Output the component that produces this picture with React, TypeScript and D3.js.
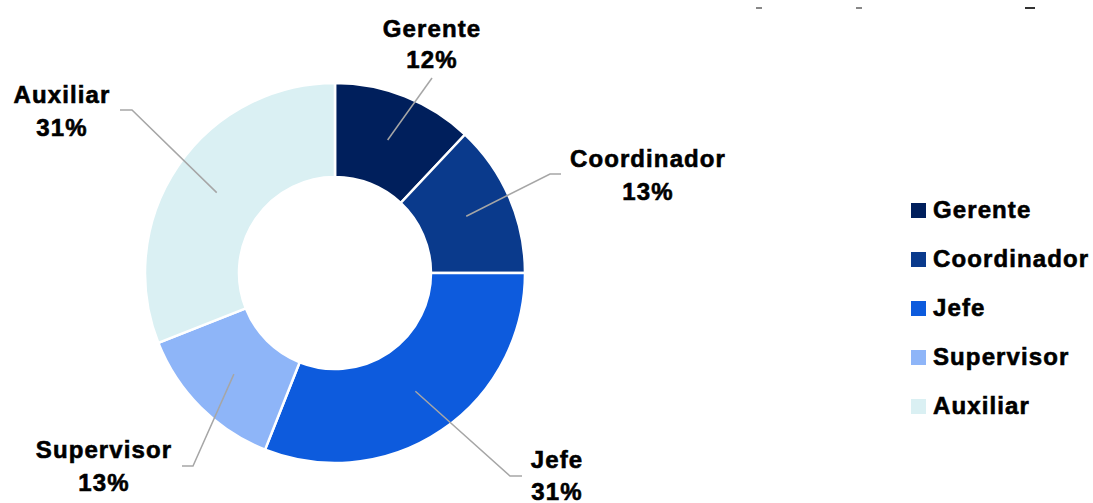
import React from "react";
import * as d3 from "d3";

const categories = ["Gerente", "Coordinador", "Jefe", "Supervisor", "Auxiliar"];
const values = [12, 13, 31, 13, 31];
const colors = ["#001F5C", "#0A3A8C", "#0D5BDD", "#8EB5F8", "#DAF0F3"];

// label layout: text center x, first baseline, elbow point, end point
const labelLayout = [
  { x: 432, y: 37, gap: 31, elbow: [432, 78], end: [432, 78] },
  { x: 648, y: 167, gap: 33, elbow: [550, 174], end: [561, 174] },
  { x: 557, y: 468, gap: 32, elbow: [510, 476], end: [522, 476] },
  { x: 104, y: 458, gap: 33, elbow: [193, 466], end: [182, 466] },
  { x: 62, y: 103, gap: 33, elbow: [132, 110], end: [120, 110] },
];

const W = 1093;
const H = 503;
const cx = 335;
const cy = 273;
const outerR = 190;
const innerR = 96;

const font = "'Liberation Sans', Arial, sans-serif";

const textStyle = {
  fontSize: 24,
  fontWeight: "bold" as const,
  letterSpacing: 1.1,
  fill: "#000",
  stroke: "#000",
  strokeWidth: 0.6,
};

export default function App() {
  const total = d3.sum(values);
  const pie = d3
    .pie<number>()
    .sort(null)
    .value((d) => d)
    .startAngle(0)
    .endAngle(2 * Math.PI);
  const arcs = pie(values);
  const arc = d3.arc<d3.PieArcDatum<number>>().innerRadius(innerR).outerRadius(outerR);
  const fmt = (v: number) => `${Math.round((v / total) * 100)}%`;

  const legendY = d3.scaleBand<string>().domain(categories).range([203, 448]);

  return (
    <svg
      width={W}
      height={H}
      style={{ position: "fixed", left: 0, top: 0, background: "#fff" }}
      fontFamily={font}
    >
      <rect width={W} height={H} fill="#fff" />
      {/* cut-off remnants at top right */}
      <line x1={756} x2={762} y1={8} y2={8} stroke="#888" strokeWidth={2} />
      <line x1={856} x2={862} y1={8} y2={8} stroke="#888" strokeWidth={2} />
      <line x1={1025} x2={1035} y1={8} y2={8} stroke="#333" strokeWidth={2} />
      <g transform={`translate(${cx},${cy})`}>
        {arcs.map((a, i) => (
          <path key={i} d={arc(a) || ""} fill={colors[i]} stroke="#fff" strokeWidth={2.5} />
        ))}
      </g>
      {arcs.map((a, i) => {
        const [px, py] = arc.centroid(a);
        const L = labelLayout[i];
        const pts = [[cx + px, cy + py], L.elbow, L.end];
        return (
          <g key={i}>
            <polyline
              points={pts.map((p) => p.join(",")).join(" ")}
              fill="none"
              stroke="#A6A6A6"
              strokeWidth={1.5}
            />
            <text x={L.x} y={L.y} textAnchor="middle" {...textStyle}>
              {categories[i]}
            </text>
            <text x={L.x} y={L.y + L.gap} textAnchor="middle" {...textStyle}>
              {fmt(values[i])}
            </text>
          </g>
        );
      })}
      {categories.map((c, i) => {
        const y = legendY(c) as number;
        return (
          <g key={c}>
            <rect x={911} y={y} width={15} height={15} fill={colors[i]} />
            <text x={933} y={y + 15} {...textStyle}>
              {c}
            </text>
          </g>
        );
      })}
    </svg>
  );
}
